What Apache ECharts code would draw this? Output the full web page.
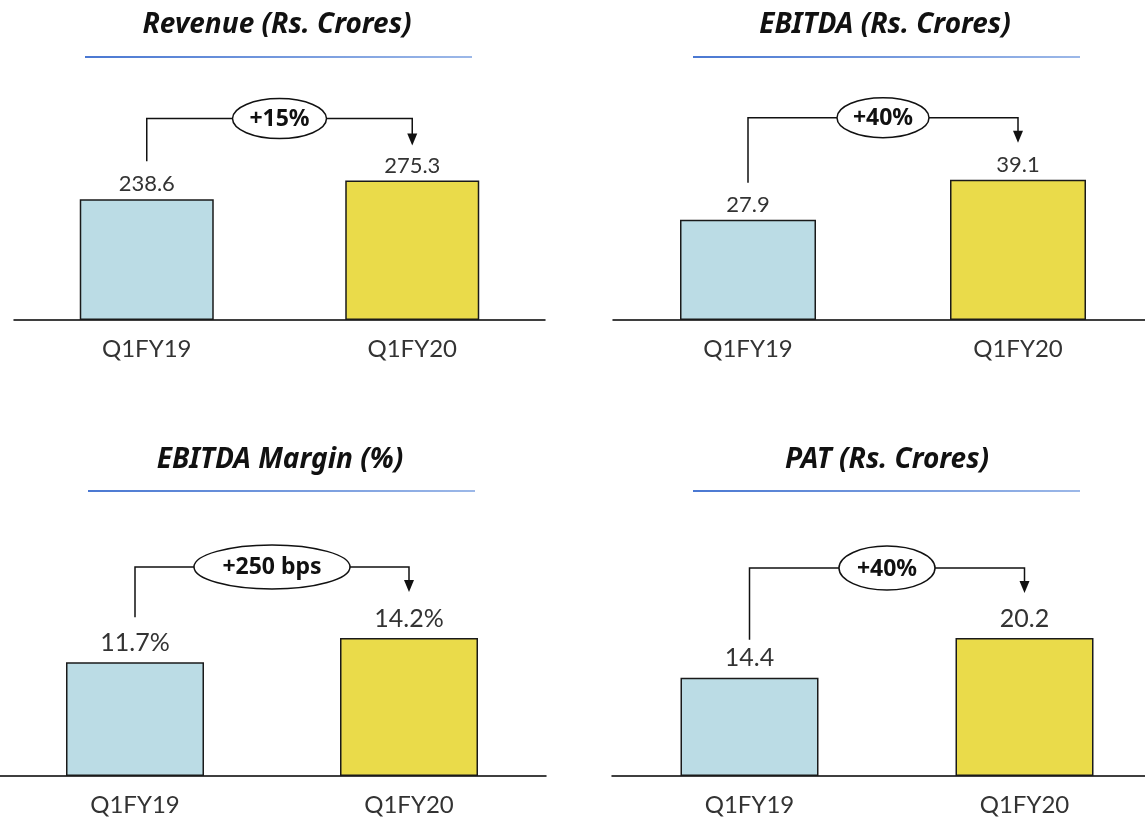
<!DOCTYPE html>
<html>
<head>
<meta charset="utf-8">
<title>Q1FY20 highlights</title>
<script src="https://cdn.jsdelivr.net/npm/echarts@6/dist/echarts.min.js"></script>
<style>
  html, body { margin: 0; padding: 0; background: #fff; }
  #chart { width: 1145px; height: 817px; }
</style>
</head>
<body>
<div id="chart"></div>
<script>
// Data
var categories = ['Q1FY19', 'Q1FY20'];
var panelTitles = ['Revenue (Rs. Crores)', 'EBITDA (Rs. Crores)', 'EBITDA Margin (%)', 'PAT (Rs. Crores)'];
var revenueValues = [238.6, 275.3];
var ebitdaValues = [27.9, 39.1];
var marginValues = [11.7, 14.2];
var patValues = [14.4, 20.2];
var growthLabels = ['+15%', '+40%', '+250 bps', '+40%'];
var valueSuffix = ['', '', '%', ''];

var panelValues = [revenueValues, ebitdaValues, marginValues, patValues];

// Layout per panel (TL, TR, BL, BR)
var FONT = 'Lato, "Noto Sans", sans-serif';
var TITLE_FONT = '"Noto Sans", "Open Sans", sans-serif';
var grids = [
  { left: 14, top: 40, width: 531, height: 280 },
  { left: 613, top: 40, width: 540, height: 280 },
  { left: -2, top: 496, width: 548, height: 280 },
  { left: 612, top: 496, width: 550, height: 280 }
];
var yMax = [553, 78, 28.8, 41];
var barWidths = [134, 136, 138, 138];
var labelSize = [22, 22, 25, 25];
var labelGap = [4, 4, 7, 7];
var titlePos = [[277, 25], [885, 25], [280, 460], [887, 460]];
var underline = [[85, 56, 387], [693, 56, 387], [88, 490, 387], [693, 490, 387]];
// connector offsets (pixels above the bar tops) and ellipse radii
var conn = [
  { gapL: 38, gapLine: 62, gapTip: 35, rx: 47, ry: 20 },
  { gapL: 37, gapLine: 62, gapTip: 37, rx: 46, ry: 20 },
  { gapL: 45, gapLine: 71, gapTip: 46, rx: 78, ry: 22 },
  { gapL: 38, gapLine: 70, gapTip: 45, rx: 48, ry: 22 }
];
var barColors = ['#BBDCE5', '#EADB4A'];

var chart = echarts.init(document.getElementById('chart'));

var option = {
  animation: false,
  backgroundColor: '#fff',
  grid: grids.map(function (g) {
    return Object.assign({ outerBoundsMode: 'none', containLabel: false }, g);
  }),
  xAxis: grids.map(function (g, i) {
    return {
      type: 'category',
      gridIndex: i,
      data: categories,
      axisTick: { show: false },
      axisLine: { lineStyle: { color: '#000', width: 1.5 } },
      axisLabel: { fontSize: 24, color: '#333', margin: 17, fontFamily: FONT }
    };
  }),
  yAxis: grids.map(function (g, i) {
    return { type: 'value', gridIndex: i, min: 0, max: yMax[i], show: false, splitLine: { show: false } };
  }),
  series: panelValues.map(function (vals, i) {
    return {
      type: 'bar',
      xAxisIndex: i,
      yAxisIndex: i,
      barWidth: barWidths[i],
      silent: true,
      data: vals.map(function (v, j) {
        return { value: v, itemStyle: { color: barColors[j] } };
      }),
      itemStyle: { borderColor: '#1a1a1a', borderWidth: 1.5 },
      label: {
        show: true,
        position: 'top',
        distance: labelGap[i],
        fontSize: labelSize[i],
        color: '#333',
        fontFamily: FONT,
        formatter: function (p) { return p.value.toFixed(1) + valueSuffix[i]; }
      }
    };
  })
};

chart.setOption(option);

// Titles, underlines and growth connectors, placed from the bar pixel positions
function buildGraphics() {
  var els = [];
  panelTitles.forEach(function (t, i) {
    els.push({
      type: 'text',
      x: titlePos[i][0],
      y: titlePos[i][1],
      style: {
        text: t, fill: '#111', fontSize: 28, fontWeight: 'bold', fontStyle: 'italic', fontFamily: TITLE_FONT,
        align: 'center', verticalAlign: 'middle', textAlign: 'center', textVerticalAlign: 'middle'
      }
    });
    var u = underline[i];
    els.push({
      type: 'rect',
      shape: { x: u[0], y: u[1], width: u[2], height: 2 },
      style: {
        fill: new echarts.graphic.LinearGradient(0, 0, 1, 0, [
          { offset: 0, color: '#4a78d2' },
          { offset: 1, color: '#9cb8e8' }
        ])
      }
    });
  });

  panelValues.forEach(function (vals, i) {
    var c = conn[i];
    var a = chart.convertToPixel({ seriesIndex: i }, [0, vals[0]]);
    var b = chart.convertToPixel({ seriesIndex: i }, [1, vals[1]]);
    var lineY = b[1] - c.gapLine;
    var tipY = b[1] - c.gapTip;
    var cx = (a[0] + b[0]) / 2;
    var lineStyle = { stroke: '#111', lineWidth: 1.5, fill: null };

    els.push({
      type: 'polyline',
      shape: { points: [[a[0], a[1] - c.gapL], [a[0], lineY], [cx - c.rx, lineY]] },
      style: lineStyle
    });
    els.push({
      type: 'polyline',
      shape: { points: [[cx + c.rx, lineY], [b[0], lineY], [b[0], tipY - 10]] },
      style: lineStyle
    });
    els.push({
      type: 'polygon',
      shape: { points: [[b[0] - 5, tipY - 12], [b[0] + 5, tipY - 12], [b[0], tipY]] },
      style: { fill: '#111' }
    });
    els.push({
      type: 'ellipse',
      shape: { cx: cx, cy: lineY, rx: c.rx, ry: c.ry },
      style: { fill: '#fff', stroke: '#111', lineWidth: 1.5 }
    });
    els.push({
      type: 'text',
      x: cx,
      y: lineY + 1,
      style: {
        text: growthLabels[i], fill: '#111', fontSize: 23, fontWeight: 'bold', fontFamily: TITLE_FONT,
        align: 'center', verticalAlign: 'middle', textAlign: 'center', textVerticalAlign: 'middle'
      }
    });
  });
  return els;
}

chart.setOption({ graphic: { elements: buildGraphics() } });
</script>
</body>
</html>
